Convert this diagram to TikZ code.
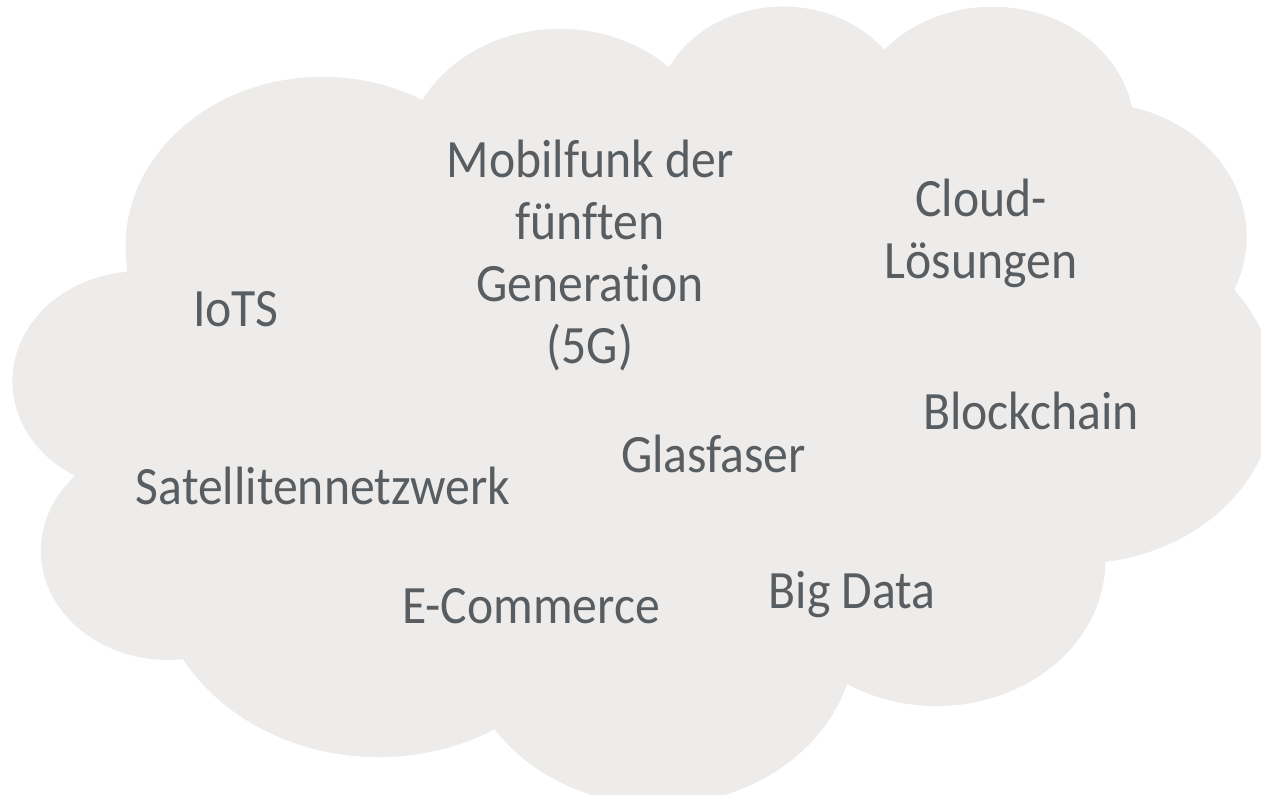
\documentclass[tikz,border=0pt]{standalone}
\usepackage{fontspec}
\setmainfont{Carlito}[FakeStretch=0.92, Ligatures=NoCommon]
\definecolor{cloudfill}{RGB}{237,236,234}
\definecolor{cloudtext}{RGB}{88,93,98}
\makeatletter
\newcommand\cldang[5]{%
  \pgfmathsetmacro\cld@a{atan2((#2)*sin(#4),(#3)*cos(#4))}%
  \pgfmathsetmacro\cld@b{atan2((#2)*sin((#4)+(#5)),(#3)*cos((#4)+(#5)))}%
  \pgfmathsetmacro\cld@d{\cld@b-\cld@a}%
  \pgfmathsetmacro\cld@d{\cld@d-360*round((\cld@d-(#5))/360)}%
  \pgfmathsetmacro\cld@e{\cld@a+\cld@d}%
  \expandafter\xdef\csname cldS#1\endcsname{\cld@a}%
  \expandafter\xdef\csname cldE#1\endcsname{\cld@e}%
}
\makeatother
\cldang{a}{67.53}{91.90}{-190.4875}{123.7805}
\cldang{b}{53.33}{72.67}{-144.1024}{89.9452}
\cldang{c}{43.65}{59.45}{-145.8079}{99.7230}
\cldang{d}{48.57}{65.95}{-130.9861}{117.2417}
\cldang{e}{53.33}{72.73}{-78.7089}{109.0269}
\cldang{f}{67.75}{92.20}{-46.2673}{130.2690}
\cldang{g}{57.85}{78.67}{0.6250}{114.0333}
\cldang{h}{67.52}{92.15}{22.4516}{115.1726}
\cldang{i}{77.20}{105.43}{66.2426}{75.7110}
\cldang{j}{43.60}{59.18}{-274.9421}{146.7356}
\cldang{k}{43.45}{59.45}{-246.8285}{152.5189}
\tikzset{
  label/.style={anchor=base, inner sep=0pt, text=cloudtext, align=center,
    font=\fontsize{54}{62}\selectfont},
}
\begin{document}
\begin{tikzpicture}[x=1pt, y=-1pt]
\useasboundingbox[fill=white] (0,0) rectangle (1261,795);
\begin{scope}[shift={(13.5,4)}, x=2.91898pt, y=-1.84722pt]
\fill[cloudfill] (39,143.7)
  arc[start angle=\cldSa, end angle=\cldEa, x radius=67.53, y radius=91.90]
  arc[start angle=\cldSb, end angle=\cldEb, x radius=53.33, y radius=72.67]
  arc[start angle=\cldSc, end angle=\cldEc, x radius=43.65, y radius=59.45]
  arc[start angle=\cldSd, end angle=\cldEd, x radius=48.57, y radius=65.95]
  arc[start angle=\cldSe, end angle=\cldEe, x radius=53.33, y radius=72.73]
  arc[start angle=\cldSf, end angle=\cldEf, x radius=67.75, y radius=92.20]
  arc[start angle=\cldSg, end angle=\cldEg, x radius=57.85, y radius=78.67]
  arc[start angle=\cldSh, end angle=\cldEh, x radius=67.52, y radius=92.15]
  arc[start angle=\cldSi, end angle=\cldEi, x radius=77.20, y radius=105.43]
  arc[start angle=\cldSj, end angle=\cldEj, x radius=43.60, y radius=59.18]
  arc[start angle=\cldSk, end angle=\cldEk, x radius=43.45, y radius=59.45]
  -- cycle;
\end{scope}
\node[label] (iots) at (236,326) {IoTS};
\node[label] (mobil) at (590,363) {Mobilfunk der\\fünften\\Generation\\(5G)};
\node[label] (cloudl) at (981,278) {Cloud-\\Lösungen};
\node[label] (block) at (1031,429) {Blockchain};
\node[label] (glas) at (713.5,472) {Glasfaser};
\node[label] (sat) at (323,504) {Satellitennetzwerk};
\node[label] (ecom) at (531,623) {E-Commerce};
\node[label] (big) at (852,608) {Big Data};
\end{tikzpicture}
\end{document}
